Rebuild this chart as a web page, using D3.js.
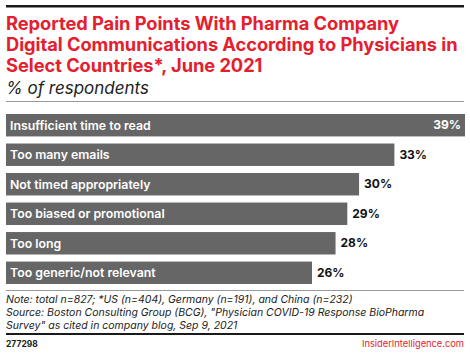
<!DOCTYPE html>
<html><head><meta charset="utf-8">
<script src="https://cdn.jsdelivr.net/npm/d3@7"></script>
<style>body{margin:0;background:#fff}svg{display:block}text{font-family:Inter,"Liberation Sans",Arial,sans-serif}</style>
</head><body>
<script>
const categories = ["Insufficient time to read","Too many emails","Not timed appropriately","Too biased or promotional","Too long","Too generic/not relevant"];
const values = [39,33,30,29,28,26];
const titleLines = ["Reported Pain Points With Pharma Company","Digital Communications According to Physicians in","Select Countries*, June 2021"];
const subtitle = "% of respondents";
const noteLines = ["Note: total n=827; *US (n=404), Germany (n=191), and China (n=232)","Source: Boston Consulting Group (BCG), \"Physician COVID-19 Response BioPharma","Survey\" as cited in company blog, Sep 9, 2021"];
const chartId = "277298";
const brand = "InsiderIntelligence.com";

const W=470,H=355;
const svg=d3.select("body").append("svg").attr("width",W).attr("height",H);
svg.append("rect").attr("x",6).attr("y",5).attr("width",458).attr("height",2.5).attr("fill","#1a1a1a");
svg.selectAll(".t").data(titleLines).join("text").attr("x",6).attr("y",(d,i)=>30+i*21)
  .attr("font-size",18.3).attr("font-weight",700).attr("fill","#e5202e").attr("letter-spacing",-0.05).text(d=>d);
svg.append("text").attr("x",6).attr("y",94).attr("font-size",17).attr("font-style","italic").attr("fill","#222").text(subtitle);
svg.append("rect").attr("x",6).attr("y",101).attr("width",458).attr("height",1).attr("fill","#999");

const x=d3.scaleLinear().domain([0,39]).range([6,465]);
const y=d3.scaleBand().domain(categories).range([114,284]).paddingInner(0.24).paddingOuter(0);
const g=svg.append("g");
g.selectAll("rect.bar").data(values).join("rect").attr("class","bar")
  .attr("x",x(0)).attr("y",(d,i)=>y(categories[i])).attr("width",d=>x(d)-x(0)).attr("height",y.bandwidth()).attr("fill","#666666");
g.selectAll("text.lab").data(categories).join("text").attr("class","lab")
  .attr("x",x(0)+4).attr("y",d=>y(d)+y.bandwidth()/2).attr("dy","0.35em")
  .attr("font-size",12.3).attr("font-weight",600).attr("fill","#fff").text(d=>d);
g.selectAll("text.val").data(values).join("text").attr("class","val")
  .attr("x",(d,i)=>i===0?x(d)-4:x(d)+5).attr("text-anchor",(d,i)=>i===0?"end":"start")
  .attr("y",(d,i)=>y(categories[i])+y.bandwidth()/2).attr("dy","0.35em")
  .attr("font-size",12).attr("font-weight",700).attr("fill",(d,i)=>i===0?"#fff":"#111").text(d=>d+"%");

svg.append("rect").attr("x",6).attr("y",290).attr("width",458).attr("height",1).attr("fill","#999");
svg.selectAll(".n").data(noteLines).join("text").attr("x",6).attr("y",(d,i)=>303+i*13)
  .attr("font-size",10.5).attr("font-style","italic").attr("fill","#222").text(d=>d);
svg.append("rect").attr("x",6).attr("y",333).attr("width",458).attr("height",2).attr("fill","#1a1a1a");
svg.append("text").attr("x",6).attr("y",347).attr("font-size",8.5).attr("font-weight",700).attr("fill","#222").text(chartId);
svg.append("text").attr("x",464).attr("y",347).attr("text-anchor","end").attr("font-size",9.3).attr("fill","#e5202e").text(brand);
</script>
</body></html>
